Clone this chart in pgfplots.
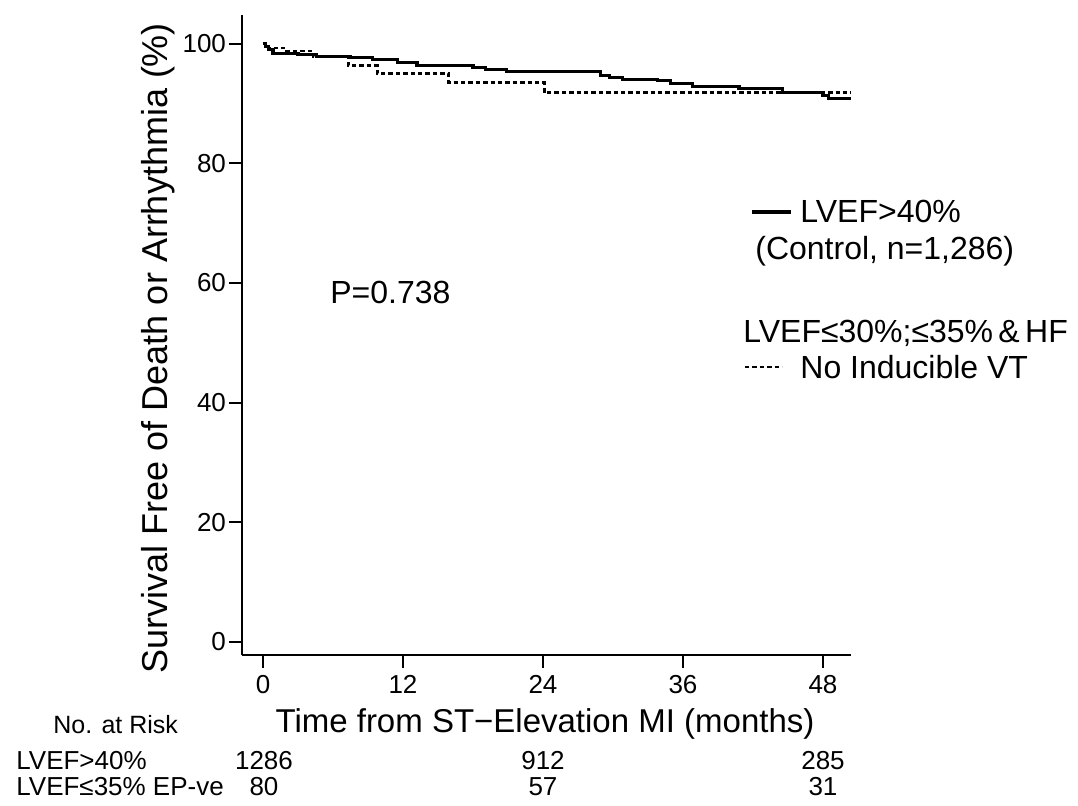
\documentclass[border=0pt]{standalone}
\usepackage{pgfplots}
\pgfplotsset{compat=1.18}
\usepackage{fontspec}
\setmainfont{Liberation Sans}
\begin{document}
\begin{tikzpicture}
\useasboundingbox (-121pt,-75pt) rectangle (418pt,327.5pt);
\begin{axis}[
  at={(0pt,0pt)}, anchor=south west,
  scale only axis, width=304.5pt, height=320pt,
  xmin=-1.8, xmax=50.4, ymin=-2.17, ymax=104.8,
  axis x line*=bottom, axis y line*=left,
  axis line style={-, line width=1pt},
  every tick/.style={black, line width=1pt},
  tick align=outside, major tick length=6.5pt,
  xtick={0,12,24,36,48}, ytick={0,20,40,60,80,100},
  /pgf/number format/assume math mode=true,
  tick label style={font=\fontsize{13}{15}\selectfont},
  xticklabel style={yshift=0pt},
  yticklabel style={xshift=2pt},
  clip=false,
]
\addplot[const plot, black, line width=1.6pt] coordinates {
(0,100) (0.2,99.5) (0.5,99.0) (0.85,98.4) (3.0,98.2) (4.6,97.9) (7.5,97.7)
(9.4,97.3) (11.5,96.8) (13.2,96.4) (18.0,96.0) (19.1,95.7) (20.9,95.4)
(23.9,95.3) (28.9,94.7) (29.7,94.4) (30.8,94.0) (33.8,93.8) (34.9,93.3)
(36.8,92.8) (40.8,92.5) (44.5,91.9) (48.0,91.4) (48.5,90.8) (50.4,90.8)
};
\addplot[const plot, black, line width=1.4pt, dash pattern=on 2.2pt off 1.5pt] coordinates {
(0,100) (0.5,99.3) (1.8,98.8) (4.3,97.8) (7.3,96.3) (9.8,95.0)
(15.9,93.5) (24.1,91.8) (50.4,91.8)
};
\end{axis}
% legend
\draw[line width=1.6pt] (255pt,221.5pt) -- (274.5pt,221.5pt);
\node[anchor=base west, inner sep=0pt, font=\fontsize{16}{18}\selectfont] at (279pt,216pt) {LVEF>40\%};
\node[anchor=base west, inner sep=0pt, font=\fontsize{16}{18}\selectfont] at (256.5pt,197.5pt) {(Control, n=1,286)};
\node[anchor=base west, inner sep=0pt, font=\fontsize{16}{18}\selectfont] at (250.5pt,156.5pt) {LVEF≤30\%;≤35\%\,\&\,HF};
\draw[line width=1.4pt, dash pattern=on 2.2pt off 1.5pt] (251.5pt,144pt) -- (270pt,144pt);
\node[anchor=base west, inner sep=0pt, font=\fontsize{16}{18}\selectfont] at (279pt,138.5pt) {No Inducible VT};
\node[anchor=base west, inner sep=0pt, font=\fontsize{16}{18}\selectfont] at (44pt,175.5pt) {P=0.738};
% axis labels
\node[rotate=90, inner sep=0pt, font=\fontsize{18}{20}\selectfont] at (-42pt,153.5pt) {Survival Free of Death or Arrhythmia (\%)};
\node[anchor=base, inner sep=0pt, font=\fontsize{16.5}{18}\selectfont] at (151.5pt,-38.5pt) {Time from ST−Elevation MI (months)};
% at risk
\node[anchor=base west, inner sep=0pt, font=\fontsize{12.5}{14}\selectfont] at (-94.5pt,-39pt) {No. at Risk};
\node[anchor=base west, inner sep=0pt, font=\fontsize{13}{15}\selectfont] at (-113pt,-57pt) {LVEF>40\%};
\node[anchor=base west, inner sep=0pt, font=\fontsize{13}{15}\selectfont] at (-113pt,-70pt) {LVEF≤35\% EP-ve};
\foreach \xx/\vv in {11/1286,150.5/912,290.5/285}
  \node[anchor=base, inner sep=0pt, font=\fontsize{13}{15}\selectfont] at (\xx pt,-57pt) {\vv};
\foreach \xx/\vv in {11/80,150.5/57,290.5/31}
  \node[anchor=base, inner sep=0pt, font=\fontsize{13}{15}\selectfont] at (\xx pt,-70pt) {\vv};
\end{tikzpicture}
\end{document}
